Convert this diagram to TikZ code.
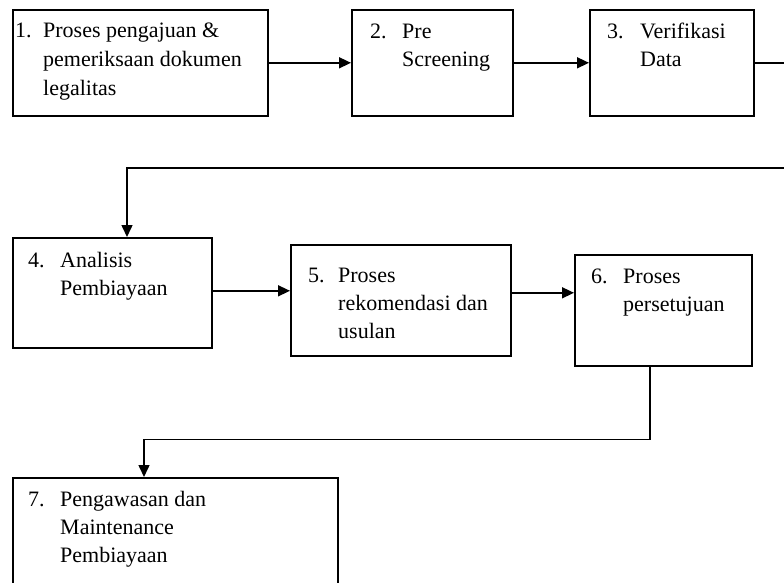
\documentclass[tikz,border=0pt]{standalone}
\usepackage{fontspec}
\setmainfont{Liberation Serif}
\usetikzlibrary{arrows.meta,calc}
\tikzset{
  box/.style={draw=black, line width=1.6pt, inner sep=0pt, anchor=north west},
  txt/.style={inner sep=0pt, anchor=base west, align=left,
    font=\fontsize{22}{28}\selectfont},
  conn/.style={draw=black, line width=1.5pt},
  arr/.style={conn, -{Triangle[length=12pt,width=11pt]}}
}
\newcommand{\itm}[3]{\begin{tabular}[t]{@{}p{#1}@{}l@{}}#2 & #3\end{tabular}}
\begin{document}
\begin{tikzpicture}[x=1pt,y=-1pt]
\useasboundingbox (0,0) rectangle (784,582);
\clip (0,0) rectangle (784,582);
% boxes
\node[box, minimum width=255pt, minimum height=106pt] (b1) at (12,9) {};
\node[box, minimum width=161pt, minimum height=106pt] (b2) at (351,9) {};
\node[box, minimum width=164pt, minimum height=106pt] (b3) at (589,9) {};
\node[box, minimum width=199pt, minimum height=110pt] (b4) at (12,237) {};
\node[box, minimum width=220pt, minimum height=111pt] (b5) at (290,244) {};
\node[box, minimum width=177pt, minimum height=111pt] (b6) at (574,254) {};
\node[box, minimum width=325pt, minimum height=140pt] (b7) at (12,477) {};
% texts
\def\arraystretch{1}
\node[txt] (t1) at (15,37) {\fontsize{22}{29}\selectfont\itm{28pt}{1.}{Proses pengajuan \&\\ & pemeriksaan dokumen\\ & legalitas}};
\node[txt] (t2) at (370,38) {\itm{32pt}{2.}{Pre\\ & Screening}};
\node[txt] (t3) at (607,38) {\itm{33pt}{3.}{Verifikasi\\ & Data}};
\node[txt] (t4) at (28,267) {\itm{32pt}{4.}{Analisis\\ & Pembiayaan}};
\node[txt] (t5) at (308,282) {\itm{30pt}{5.}{Proses\\ & rekomendasi dan\\ & usulan}};
\node[txt] (t6) at (591,283) {\itm{32pt}{6.}{Proses\\ & persetujuan}};
\node[txt] (t7) at (28,506) {\itm{32pt}{7.}{Pengawasan dan\\ & Maintenance\\ & Pembiayaan}};
% connectors
\coordinate (a4) at ([xshift=115pt]b4.north west);
\coordinate (s6) at ([xshift=-13.5pt]b6.south);
\coordinate (a7) at ([xshift=132pt]b7.north west);
\draw[arr] (b1.east) -- (b2.west);
\draw[arr] (b2.east) -- (b3.west);
\draw[arr] (b3.east) -- ++(45,0) -- ++(0,105) -| (a4);
\draw[arr] ([yshift=2pt]b4.east) -- ([yshift=2pt]b4.east -| b5.west);
\draw[arr] ([yshift=7.5pt]b5.east) -- ([yshift=7.5pt]b5.east -| b6.west);
\draw[arr] (s6) -- ++(0,73) -| (a7);
\end{tikzpicture}
\end{document}
